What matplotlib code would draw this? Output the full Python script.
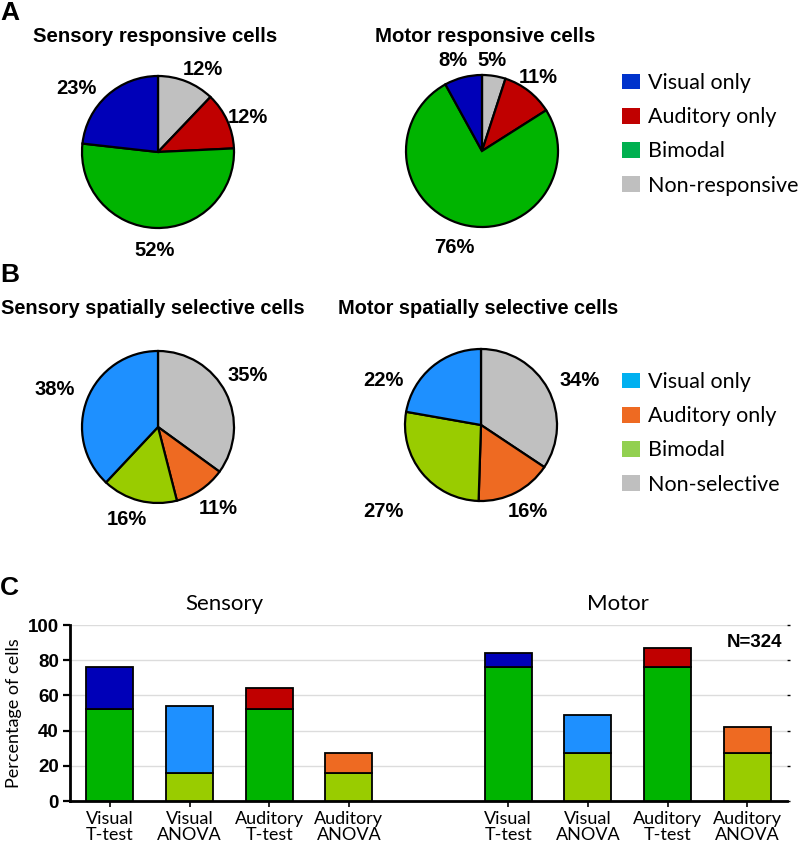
import matplotlib
matplotlib.use("Agg")
import matplotlib.pyplot as plt
from matplotlib.patches import Patch

W, H = 800, 846

# ---- data ----
resp_labels = ["Visual only", "Auditory only", "Bimodal", "Non-responsive"]
sel_labels = ["Visual only", "Auditory only", "Bimodal", "Non-selective"]

# pie order (clockwise from top): non, auditory, bimodal, visual
sens_resp = [12, 12, 52, 23]
motor_resp = [5, 11, 76, 8]
sens_sel = [35, 11, 16, 38]
motor_sel = [34, 16, 27, 22]

bar_groups = ["Visual\nT-test", "Visual\nANOVA", "Auditory\nT-test", "Auditory\nANOVA"]
sens_bottom = [52, 16, 52, 16]
sens_top = [24, 38, 12, 11]
motor_bottom = [76, 27, 76, 27]
motor_top = [8, 22, 11, 15]

# ---- colours ----
blue_d, red_d, green_d, grey = "#0000b8", "#c00000", "#00b400", "#c0c0c0"
blue_l, orange, green_l = "#1e90ff", "#ee6a22", "#99cc00"
resp_cols = [grey, red_d, green_d, blue_d]
sel_cols = [grey, orange, green_l, blue_l]
leg_resp_cols = ["#0033cc", "#c00000", "#00b050", "#bfbfbf"]
leg_sel_cols = ["#00b0f0", "#ee6a22", "#92d050", "#bfbfbf"]

BOLD = ["Liberation Sans", "DejaVu Sans"]
REG = ["Lato", "DejaVu Sans"]

fig = plt.figure(figsize=(W / 100, H / 100), dpi=100)


def px_axes(cx, cy, r):
    return fig.add_axes([(cx - r) / W, (H - cy - r) / H, 2 * r / W, 2 * r / H])


def draw_pie(cx, cy, r, vals, cols, lab_pos):
    ax = px_axes(cx, cy, r * 1.05)
    ax.pie(vals, colors=cols, startangle=90, counterclock=False, radius=1,
           wedgeprops=dict(edgecolor="black", linewidth=1.6))
    ax.set_xlim(-1.05, 1.05)
    ax.set_ylim(-1.05, 1.05)
    ax.set_aspect("equal")
    ax.axis("off")
    for v, (lx, ly) in zip(vals, lab_pos):
        ax.text(lx, ly, f"{v}%", ha="center", va="center", fontsize=14.5,
                fontweight="bold", family=BOLD)
    return ax


def fig_text(x, y, s, **kw):
    fig.text(x / W, 1 - y / H, s, **kw)


def legend(y_top, labels, cols):
    handles = [Patch(facecolor=c, edgecolor="none") for c in cols]
    fig.legend(handles, labels, loc="upper left",
               bbox_to_anchor=(622 / W, 1 - y_top / H), frameon=False,
               prop=dict(family=REG, size=15.5), handlelength=0.85,
               handleheight=0.75, handletextpad=0.35, labelspacing=0.66,
               borderpad=0, borderaxespad=0)


# ---- panel A ----
fig_text(0, 13, "A", fontsize=19, fontweight="bold", family=BOLD, va="center")
fig_text(155, 36, "Sensory responsive cells", fontsize=14.7, fontweight="bold",
         family=BOLD, ha="center", va="center")
fig_text(485, 36, "Motor responsive cells", fontsize=14.7, fontweight="bold",
         family=BOLD, ha="center", va="center")
R = 76
draw_pie(158, 152, R, sens_resp, resp_cols,
         [(0.59, 1.08), (1.18, 0.46), (-0.04, -1.29), (-1.07, 0.83)])
draw_pie(482, 151, R, motor_resp, resp_cols,
         [(0.13, 1.19), (0.74, 0.97), (-0.36, -1.27), (-0.38, 1.19)])
legend(73, resp_labels, leg_resp_cols)

# ---- panel B ----
fig_text(0, 275, "B", fontsize=19, fontweight="bold", family=BOLD, va="center")
fig_text(1, 308, "Sensory spatially selective cells", fontsize=14.4,
         fontweight="bold", family=BOLD, ha="left", va="center")
fig_text(478, 308, "Motor spatially selective cells", fontsize=14.4,
         fontweight="bold", family=BOLD, ha="center", va="center")
draw_pie(158, 427, R, sens_sel, sel_cols,
         [(1.18, 0.68), (0.79, -1.07), (-0.41, -1.22), (-1.36, 0.49)])
draw_pie(481, 425, R, motor_sel, sel_cols,
         [(1.30, 0.59), (0.62, -1.14), (-1.28, -1.14), (-1.28, 0.59)])
legend(372, sel_labels, leg_sel_cols)

# ---- panel C ----
fig_text(0, 588, "C", fontsize=19, fontweight="bold", family=BOLD, va="center")
ax = fig.add_axes([70 / W, (H - 801) / H, (787 - 70) / W, 176 / H])
sx = [0, 1, 2, 3]
mx = [5, 6, 7, 8]
bw = 0.59
kw = dict(width=bw, edgecolor="black", linewidth=1.3, zorder=3)
ax.bar(sx, sens_bottom, color=[green_d, green_l, green_d, green_l], **kw)
ax.bar(sx, sens_top, bottom=sens_bottom, color=[blue_d, blue_l, red_d, orange], **kw)
ax.bar(mx, motor_bottom, color=[green_d, green_l, green_d, green_l], **kw)
ax.bar(mx, motor_top, bottom=motor_bottom, color=[blue_d, blue_l, red_d, orange], **kw)

ax.set_xlim(-0.5, 8.5)
ax.set_ylim(0, 100)
ax.set_yticks([0, 20, 40, 60, 80, 100])
ax.yaxis.grid(True, color="#dcdcdc", linewidth=1, zorder=0)
ax.set_axisbelow(True)
ax.set_xticks(sx + mx)
ax.set_xticklabels(bar_groups * 2, family=REG, fontsize=13, linespacing=1.0)
for lab in ax.get_yticklabels():
    lab.set_fontweight("bold")
    lab.set_family(BOLD)
    lab.set_fontsize(13.5)
ax.tick_params(axis="y", which="both", direction="out", length=5, width=1.6,
               pad=3)
ax.tick_params(axis="y", right=True, labelright=False)
ax.tick_params(axis="x", direction="out", length=4, width=1.2, pad=3)
for s in ["top", "right"]:
    ax.spines[s].set_visible(False)
for s in ["left", "bottom"]:
    ax.spines[s].set_linewidth(2)
for t in ax.yaxis.get_major_ticks():
    t.tick2line.set_markersize(2)
    t.tick2line.set_markeredgewidth(1)
ax.set_ylabel("Percentage of cells", family=REG, fontsize=13, labelpad=4)
ax.text(0.215, 1.12, "Sensory", transform=ax.transAxes, ha="center", va="center",
        family=REG, fontsize=16)
ax.text(0.764, 1.12, "Motor", transform=ax.transAxes, ha="center", va="center",
        family=REG, fontsize=16)
ax.text(0.993, 0.9, "N=324", transform=ax.transAxes, ha="right", va="center",
        family=BOLD, fontweight="bold", fontsize=13.5)

fig.savefig("out.png", dpi=100)
